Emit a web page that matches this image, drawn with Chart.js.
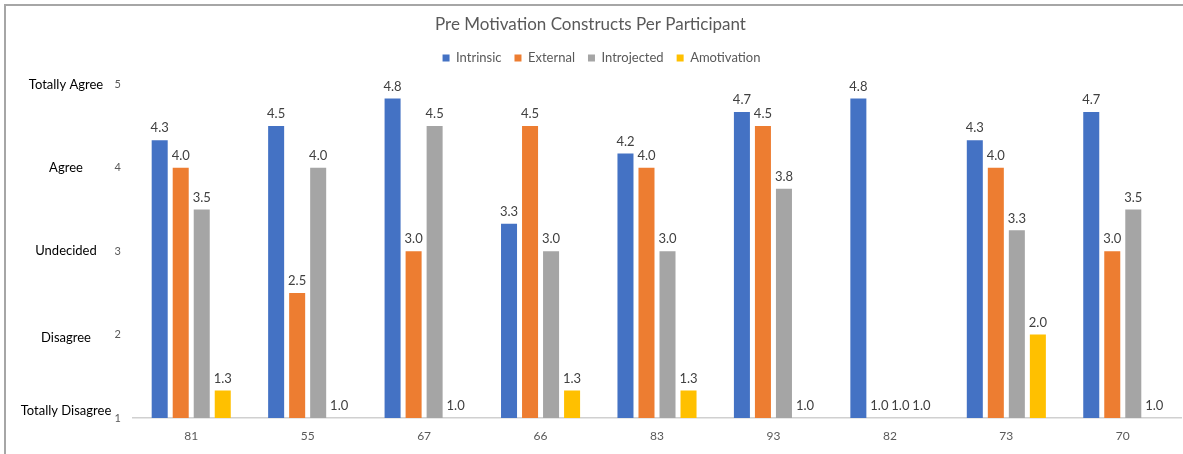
<!DOCTYPE html>
<html lang="en">
<head>
<meta charset="UTF-8">
<title>Pre Motivation Constructs Per Participant</title>
<script src="https://cdn.jsdelivr.net/npm/chart.js"></script>
<style>
  html, body { margin: 0; padding: 0; background: #fff; }
  .wrap { position: relative; width: 1183px; height: 454px; }
</style>
</head>
<body>
<div class="wrap">
  <canvas id="motivationChart"></canvas>
</div>

<script>
// participants on the x axis
const participants = ['81', '55', '67', '66', '83', '93', '82', '73', '70'];

// mean construct scores per participant (1 - 5 scale)
const intrinsic   = [4.33, 4.5, 4.83, 3.33, 4.17, 4.67, 4.83, 4.33, 4.67];
const external    = [4.0, 2.5, 3.0, 4.5, 4.0, 4.5, 1.0, 4.0, 3.0];
const introjected = [3.5, 4.0, 4.5, 3.0, 3.0, 3.75, 1.0, 3.25, 3.5];
const amotivation = [1.33, 1.0, 1.0, 1.33, 1.33, 1.0, 1.0, 2.0, 1.0];

// likert text shown beside the numeric ticks
const scaleValues = [1, 2, 3, 4, 5];
const scaleText = ['Totally Disagree', 'Disagree', 'Undecided', 'Agree', 'Totally Agree'];

const FONT = 'Lato, "Open Sans", sans-serif';

// outer frame (only top and left edges are visible in the picture)
const framePlugin = {
  id: 'frame',
  beforeDraw(chart) {
    const ctx = chart.ctx;
    ctx.save();
    ctx.strokeStyle = '#a6a6a6';
    ctx.lineWidth = 2;
    ctx.beginPath();
    ctx.moveTo(5, 460);
    ctx.lineTo(5, 5);
    ctx.lineTo(1190, 5);
    ctx.stroke();
    ctx.restore();
  }
};

// extra room between legend and plot, legend nudged a bit right
const legendGap = {
  id: 'legendGap',
  beforeLayout(chart) {
    const lg = chart.legend;
    if (lg && !lg._gapDone) {
      const fit = lg.fit;
      lg.fit = function () { fit.call(this); this.height += 10; };
      lg._gapDone = true;
    }
  },
  afterLayout(chart) {
    const lg = chart.legend;
    if (lg) { lg.left += 11; lg.right += 11; }
  }
};

// value labels above each bar
const valueLabels = {
  id: 'valueLabels',
  afterDatasetsDraw(chart) {
    const ctx = chart.ctx;
    ctx.save();
    ctx.font = '13px ' + FONT;
    ctx.fillStyle = '#404040';
    ctx.textAlign = 'center';
    ctx.textBaseline = 'middle';
    chart.data.datasets.forEach((ds, i) => {
      const meta = chart.getDatasetMeta(i);
      meta.data.forEach((bar, j) => {
        ctx.fillText(ds.data[j].toFixed(1), bar.x, bar.y - 12);
      });
    });
    ctx.restore();
  }
};

// likert words left of the y ticks
const likertLabels = {
  id: 'likertLabels',
  afterDraw(chart) {
    const y = chart.scales.y;
    const ctx = chart.ctx;
    ctx.save();
    ctx.font = '13px ' + FONT;
    ctx.fillStyle = '#000000';
    ctx.textAlign = 'center';
    ctx.textBaseline = 'middle';
    scaleValues.forEach((v, i) => {
      let py = y.getPixelForValue(v);
      if (v === 1) py -= 7;
      if (v === 2) py += 3;
      ctx.fillText(scaleText[i], 66, py);
    });
    ctx.restore();
  }
};

const ctx = document.getElementById('motivationChart').getContext('2d');
new Chart(ctx, {
  type: 'bar',
  data: {
    labels: participants,
    datasets: [
      { label: 'Intrinsic',   data: intrinsic,   backgroundColor: '#4472C4' },
      { label: 'External',    data: external,    backgroundColor: '#ED7D31' },
      { label: 'Introjected', data: introjected, backgroundColor: '#A5A5A5' },
      { label: 'Amotivation', data: amotivation, backgroundColor: '#FFC000' }
    ]
  },
  options: {
    responsive: true,
    maintainAspectRatio: false,
    animation: false,
    layout: { padding: { left: 0, right: 2, top: 0, bottom: 0 } },
    datasets: {
      bar: { categoryPercentage: 0.722, barPercentage: 0.762 }
    },
    plugins: {
      title: {
        display: true,
        text: 'Pre Motivation Constructs Per Participant',
        color: '#595959',
        font: { family: FONT, size: 17, weight: 'normal' },
        padding: { top: 14, bottom: 4 }
      },
      legend: {
        position: 'top',
        labels: {
          color: '#595959',
          font: { family: FONT, size: 13 },
          boxWidth: 7,
          boxHeight: 7,
          padding: 13
        }
      },
      tooltip: { enabled: false }
    },
    scales: {
      x: {
        grid: { display: false, drawTicks: false },
        border: { color: '#d0d0d0', width: 1.5 },
        ticks: { color: '#595959', font: { family: FONT, size: 12 }, padding: 11 },
        afterFit(scale) { scale.height = 36; }
      },
      y: {
        min: 1,
        max: 5,
        grid: { display: false, drawTicks: false },
        border: { display: false },
        ticks: { stepSize: 1, color: '#595959', font: { family: FONT, size: 11 }, padding: 12 },
        afterFit(scale) { scale.width = 133; }
      }
    }
  },
  plugins: [framePlugin, legendGap, valueLabels, likertLabels]
});
</script>
</body>
</html>
